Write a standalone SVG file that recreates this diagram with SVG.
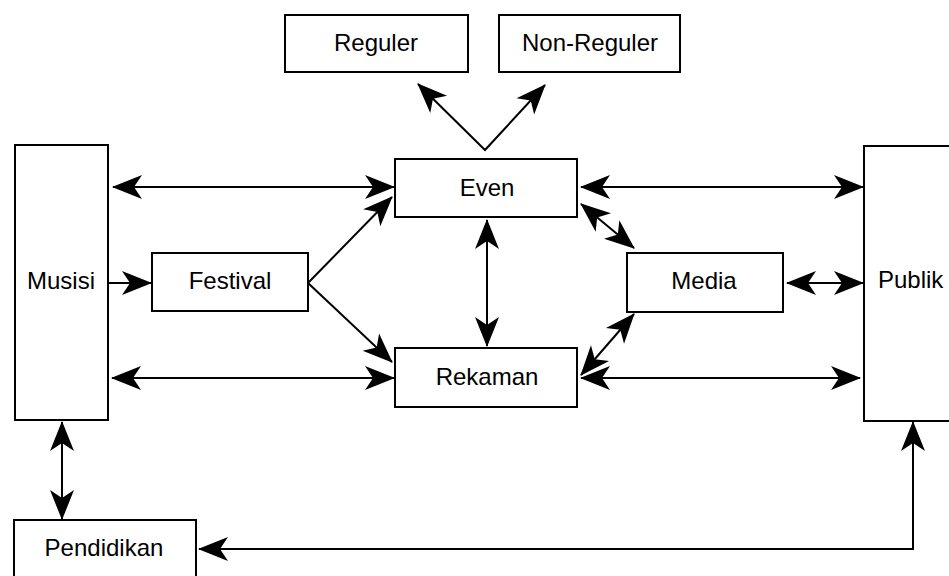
<svg xmlns="http://www.w3.org/2000/svg" width="949" height="576" viewBox="0 0 949 576">
<style>
.box{fill:#fff;stroke:#000;stroke-width:2}
.lbl{font-family:"Liberation Sans",Arial,sans-serif;font-size:24px;fill:#000}
.c{text-anchor:middle}
.ln{fill:none;stroke:#000;stroke-width:2}
.both{marker-start:url(#ah);marker-end:url(#ah)}
.one{marker-end:url(#ah)}
</style>
<defs>
<marker id="ah" viewBox="-30 -13 32 26" refX="0" refY="0" markerWidth="32" markerHeight="26" markerUnits="userSpaceOnUse" orient="auto-start-reverse">
<path d="M1,0 L-29,-12 L-21,0 L-29,12 Z" fill="#000"/>
</marker>
</defs>
<rect width="949" height="576" fill="#fff"/>
<g id="connectors">
<path class="ln both" d="M418,84 L485,150 L545,85"/>
<path class="ln both" d="M113,187 H394"/>
<path class="ln one" d="M108,283 H151"/>
<path class="ln one" d="M308,283 L392,197"/>
<path class="ln one" d="M308,283 L392,362"/>
<path class="ln both" d="M112,378 H394"/>
<path class="ln both" d="M487,220 V346"/>
<path class="ln both" d="M581,187 H863"/>
<path class="ln both" d="M581,204 L634,248"/>
<path class="ln both" d="M634,314 L581,375"/>
<path class="ln both" d="M787,283 H863"/>
<path class="ln both" d="M581,378 H860"/>
<path class="ln both" d="M62,422 V519"/>
<path class="ln both" d="M913,422 V549 H199"/>
</g>
<g id="reguler"><rect class="box" x="285" y="15" width="183" height="57"/><text class="lbl c" x="376" y="51">Reguler</text></g>
<g id="non-reguler"><rect class="box" x="499" y="15" width="181" height="57"/><text class="lbl c" x="590" y="51">Non-Reguler</text></g>
<g id="musisi"><rect class="box" x="15" y="145" width="93" height="275"/><text class="lbl c" x="61" y="289">Musisi</text></g>
<g id="even"><rect class="box" x="395" y="159" width="182" height="58"/><text class="lbl c" x="487" y="196">Even</text></g>
<g id="festival"><rect class="box" x="152" y="253" width="156" height="58"/><text class="lbl c" x="230" y="289">Festival</text></g>
<g id="rekaman"><rect class="box" x="395" y="348" width="182" height="59"/><text class="lbl c" x="487" y="385">Rekaman</text></g>
<g id="media"><rect class="box" x="627" y="253" width="156" height="59"/><text class="lbl c" x="704" y="289">Media</text></g>
<g id="publik"><rect class="box" x="864" y="146" width="100" height="275"/><text class="lbl" x="878" y="288">Publik</text></g>
<g id="pendidikan"><rect class="box" x="14" y="520" width="182" height="70"/><text class="lbl c" x="104" y="556">Pendidikan</text></g>
</svg>
